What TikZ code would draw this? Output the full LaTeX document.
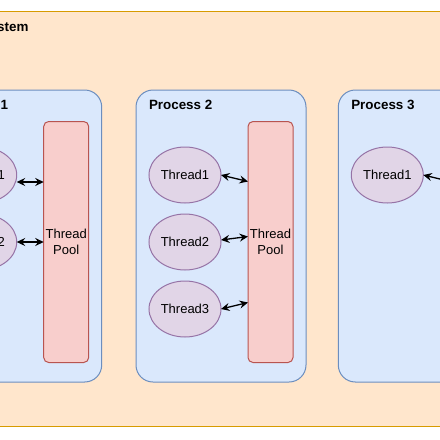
\documentclass[tikz,border=0pt]{standalone}
\usepackage{fontspec}
\setmainfont{Liberation Sans}
\usetikzlibrary{arrows.meta,positioning,shapes.geometric,calc}
\definecolor{sysfill}{HTML}{FFE6CC}
\definecolor{sysline}{HTML}{D79B00}
\definecolor{procfill}{HTML}{DAE8FC}
\definecolor{procline}{HTML}{6C8EBF}
\definecolor{poolfill}{HTML}{F8CECC}
\definecolor{poolline}{HTML}{B85450}
\definecolor{threadfill}{HTML}{E1D5E7}
\definecolor{threadline}{HTML}{9673A6}
\tikzset{
  sysbox/.style={draw=sysline, fill=sysfill, line width=1pt, minimum width=640pt, minimum height=415.5pt, inner sep=0pt, outer sep=0pt},
  process/.style={draw=procline, fill=procfill, line width=1pt, rounded corners=17pt, minimum width=170pt, minimum height=292pt, inner sep=0pt, outer sep=0pt},
  pool/.style={draw=poolline, fill=poolfill, line width=1pt, rounded corners=5pt, minimum width=45pt, minimum height=241pt, align=center, inner sep=0pt, outer sep=0pt, font=\fontsize{13}{15.5}\selectfont},
  thread/.style={ellipse, draw=threadline, fill=threadfill, line width=1pt, minimum width=72pt, minimum height=56pt, inner sep=0pt, outer sep=0pt, font=\fontsize{13}{15.5}\selectfont},
  title/.style={font=\fontsize{13.4}{16}\selectfont\bfseries, inner sep=0pt, outer sep=0pt},
  link/.style={{Stealth[length=8.5pt,width=8pt,inset=3pt]}-{Stealth[length=8.5pt,width=8pt,inset=3pt]}, line width=1.3pt, draw=black}
}

\begin{document}
\begin{tikzpicture}[x=1pt, y=-1pt]
  \useasboundingbox (0,0) rectangle (440,440);
  \clip (0,0) rectangle (440,440);

  % outer system box
  \node[sysbox] (sys) at (220,218.75) {};
  \node[title, anchor=north east] (syslabel) at (28.5,22) {System};

  % processes
  \node[process] (p1) at (16.7,236) {};
  \node[process] (p2) at (221,236) {};
  \node[process] (p3) at (423.3,236) {};
  \node[title, below right=10pt and 13pt of p1.north west] (p1label) {Process 1};
  \node[title, below right=10pt and 13pt of p2.north west] (p2label) {Process 2};
  \node[title, below right=10pt and 13pt of p3.north west] (p3label) {Process 3};

  % thread pools
  \node[pool, below left=31.5pt and 13pt of p1.north east] (pool1) {Thread\\Pool};
  \node[pool, below left=31.5pt and 13pt of p2.north east] (pool2) {Thread\\Pool};
  \node[pool, below left=31.5pt and 13pt of p3.north east] (pool3) {Thread\\Pool};

  % threads
  \node[thread] (t11) at ($(p1.north west)+(49,85)$) {Thread1};
  \node[thread, below=11pt of t11] (t12) {Thread2};
  \node[thread] (t21) at ($(p2.north west)+(49,85)$) {Thread1};
  \node[thread, below=11pt of t21] (t22) {Thread2};
  \node[thread, below=11pt of t22] (t23) {Thread3};
  \node[thread] (t31) at ($(p3.north west)+(49,85)$) {Thread1};

  % links
  \coordinate (a11) at ([yshift=-7pt]t11.east);
  \draw[link] (a11) -- (a11 -| pool1.west);
  \draw[link] (t12.east) -- (t12.east -| pool1.west);
  \draw[link] (t21.east) -- ([yshift=60.5pt]pool2.west);
  \draw[link] ([yshift=2pt]t22.east) -- ([yshift=5.5pt]pool2.west);
  \draw[link] (t23.east) -- ([yshift=-60.5pt]pool2.west);
  \draw[link] (t31.east) -- ([yshift=60.5pt]pool3.west);
\end{tikzpicture}
\end{document}
